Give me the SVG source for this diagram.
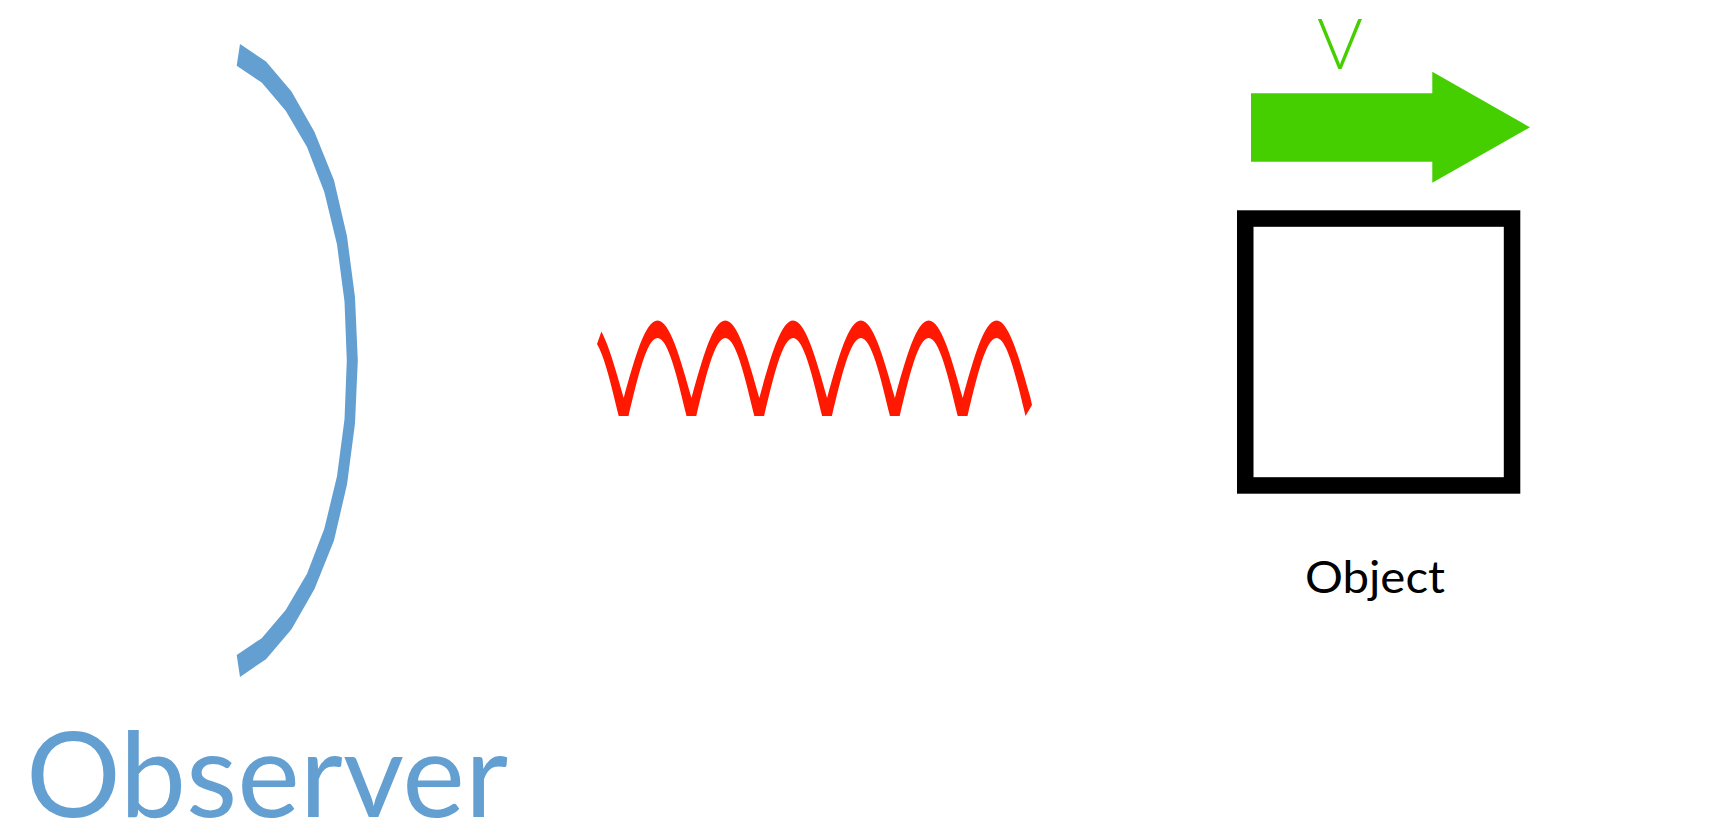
<svg xmlns="http://www.w3.org/2000/svg" width="1715" height="839" viewBox="0 0 1715 839">
<style>
.lbl{font-family:Lato,"Noto Sans","Liberation Sans",sans-serif;}
.obs{fill:#639fd1;}
.wave{fill:#fe1900;}
.grn{fill:#45cf00;}
</style>
<defs>
<clipPath id="waveClip"><polygon points="612.4,300 1100,300 1100,450 560,450"/></clipPath>
</defs>
<rect x="0" y="0" width="1715" height="839" fill="#ffffff"/>
<g id="observer">
<polygon class="obs" points="240,43.9 266,61.6 291.5,91.5 314.5,131.9 334,180.3 347,236.2 355,297.3 357.8,360.4 355,423.5 347,484.6 334,540.5 314.5,588.9 291.5,629.3 266,659.2 240,676.9 236.7,655 261.7,638.2 285.7,610 307,573.8 324.3,528.8 337,476.2 344.5,419.3 346.8,360.4 344.5,301.5 337,244.6 324.3,192 307,147 285.7,110.8 261.7,82.6 236.7,65.8"/>
<text class="lbl obs" x="26" y="816.7" font-size="118" textLength="482" lengthAdjust="spacingAndGlyphs">Observer</text>
</g>
<g id="connectors">
<path class="wave" clip-path="url(#waveClip)" d="M 589.7,320.5 C 602,320.5 612.6,358.3 623.7,398 C 634.6,358.3 645.2,320.5 657.5,320.5 C 669.8,320.5 680.4,358.3 691.5,398 C 702.4,358.3 713,320.5 725.3,320.5 C 737.6,320.5 748.2,358.3 759.3,398 C 770.2,358.3 780.8,320.5 793.1,320.5 C 805.4,320.5 816,358.3 827.1,398 C 838,358.3 848.6,320.5 860.9,320.5 C 873.2,320.5 883.8,358.3 894.9,398 C 905.8,358.3 916.4,320.5 928.7,320.5 C 941,320.5 951.6,358.3 962.7,398 C 973.6,358.3 984.2,320.5 996.5,320.5 C 1008.8,320.5 1019.4,358.3 1030.5,398 L 1032,405 L 1025.5,416 C 1016,376 1007,338 996.5,338 C 986,338 977,376 967.5,416 L 957.7,416 C 948.2,376 939.2,338 928.7,338 C 918.2,338 909.2,376 899.7,416 L 889.9,416 C 880.4,376 871.4,338 860.9,338 C 850.4,338 841.4,376 831.9,416 L 822.1,416 C 812.6,376 803.6,338 793.1,338 C 782.6,338 773.6,376 764.1,416 L 754.3,416 C 744.8,376 735.8,338 725.3,338 C 714.8,338 705.8,376 696.3,416 L 686.5,416 C 677,376 668,338 657.5,338 C 647,338 638,376 628.5,416 L 618.7,416 C 609.2,376 600.2,338 589.7,338 Z"/>
</g>
<g id="velocity">
<polygon class="grn" points="1251,93.3 1432.3,93.3 1432.3,71.7 1530,127.3 1432.3,182.7 1432.3,161.7 1251,161.7"/>
<text class="lbl grn" x="1340" y="69" font-size="70" font-weight="300" text-anchor="middle">V</text>
</g>
<g id="object">
<rect x="1245.25" y="218.55" width="266.8" height="266.9" fill="none" stroke="#000000" stroke-width="16.5"/>
<text class="lbl" x="1305" y="593.3" font-size="44" fill="#000000" textLength="140" lengthAdjust="spacingAndGlyphs">Object</text>
</g>
</svg>
